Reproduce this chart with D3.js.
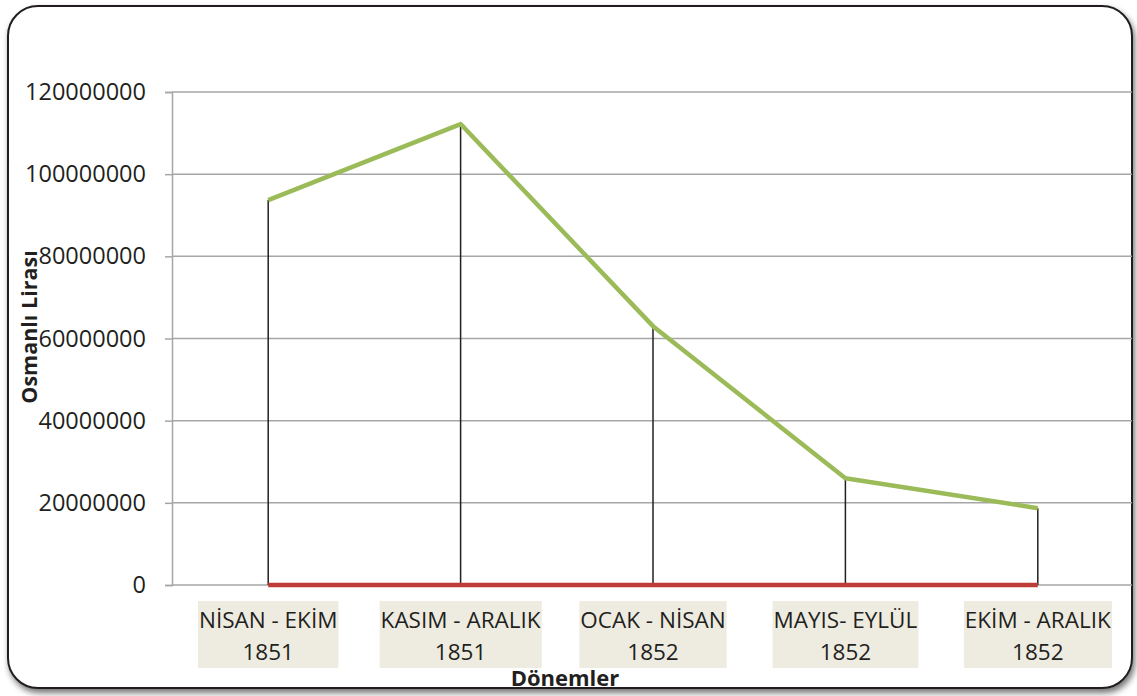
<!DOCTYPE html>
<html><head><meta charset="utf-8">
<script src="https://cdn.jsdelivr.net/npm/d3@7"></script>
<style>
body{margin:0;background:#fff;}
text{font-family:"Open Sans","Noto Sans",sans-serif;fill:#231f20;}
</style></head><body>
<svg id="c" width="1137" height="696"></svg>
<script>
const categories = ["NİSAN - EKİM|1851","KASIM - ARALIK|1851","OCAK - NİSAN|1852","MAYIS- EYLÜL|1852","EKİM - ARALIK|1852"];
const values = [93700000, 112200000, 63000000, 26000000, 18700000];
const baseline = [0, 0, 0, 0, 0];
const yTicks = [0, 20000000, 40000000, 60000000, 80000000, 100000000, 120000000];

const svg = d3.select("#c");
const defs = svg.append("defs");
const f = defs.append("filter").attr("id","sh").attr("x","-5%").attr("y","-5%").attr("width","110%").attr("height","115%");
f.append("feDropShadow").attr("dx",2).attr("dy",4).attr("stdDeviation",3).attr("flood-color","#000").attr("flood-opacity",0.55);

svg.append("rect").attr("x",8).attr("y",6).attr("width",1124).attr("height",682)
  .attr("rx",30).attr("ry",30).attr("fill","#fff").attr("stroke","#231f20").attr("stroke-width",2)
  .attr("filter","url(#sh)");

const x = d3.scaleBand().domain(categories).range([172,1134]);
const y = d3.scaleLinear().domain([0,120000000]).range([585,92]);
const cx = d => x(d) + x.bandwidth()/2;

// gridlines
svg.append("g").selectAll("line").data(yTicks.filter(t=>t>0)).join("line")
  .attr("x1",172).attr("x2",1132).attr("y1",d=>y(d)).attr("y2",d=>y(d))
  .attr("stroke","#a6a6a6").attr("stroke-width",1.5);

// y axis
const ya = svg.append("g").attr("transform","translate(172,0)")
  .call(d3.axisLeft(y).tickValues(yTicks).tickFormat(d3.format("d")).tickSize(7).tickPadding(18));
ya.attr("font-size",null).attr("font-family",null);
ya.select(".domain").attr("stroke","#a6a6a6").attr("stroke-width",1.5);
ya.selectAll(".tick line").attr("stroke","#a6a6a6").attr("stroke-width",1.5);
ya.selectAll(".tick text").style("font-size","23.5px").attr("fill","#231f20").attr("dx",-1);

// x axis baseline
svg.append("line").attr("x1",172).attr("x2",1132).attr("y1",y(0)).attr("y2",y(0))
  .attr("stroke","#a6a6a6").attr("stroke-width",1.5);

// drop lines
svg.append("g").selectAll("line").data(categories).join("line")
  .attr("x1",d=>cx(d)).attr("x2",d=>cx(d))
  .attr("y1",(d,i)=>y(values[i])).attr("y2",y(0))
  .attr("stroke","#231f20").attr("stroke-width",1.5);

// red baseline series
svg.append("path").datum(baseline)
  .attr("d", d3.line().x((d,i)=>cx(categories[i])).y(d=>y(d)))
  .attr("fill","none").attr("stroke","#be3b37").attr("stroke-width",4.5);

// green series
svg.append("path").datum(values)
  .attr("d", d3.line().x((d,i)=>cx(categories[i])).y(d=>y(d)))
  .attr("fill","none").attr("stroke","#9bbb59").attr("stroke-width",4.5).attr("stroke-linejoin","round");

// category labels
const lg = svg.append("g").selectAll("g").data(categories).join("g");
lg.each(function(d){
  const g = d3.select(this);
  const parts = d.split("|");
  const t = g.append("text").attr("text-anchor","middle").style("font-size","22.5px");
  t.append("tspan").attr("x",cx(d)).attr("y",628).text(parts[0]);
  t.append("tspan").attr("x",cx(d)).attr("y",660).text(parts[1]);
  const bb = t.node().getBBox();
  g.insert("rect","text").attr("x",bb.x-1).attr("y",601).attr("width",bb.width+2).attr("height",67).attr("fill","#eeece1");
});

// axis titles
svg.append("text").attr("x",565).attr("y",686).attr("text-anchor","middle")
  .attr("font-weight","bold").style("font-size","22px").text("Dönemler");
svg.append("text").attr("transform","translate(37,327) rotate(-90)").attr("text-anchor","middle")
  .attr("font-weight","bold").style("font-size","21.5px").text("Osmanlı Lirası");
</script></body></html>
